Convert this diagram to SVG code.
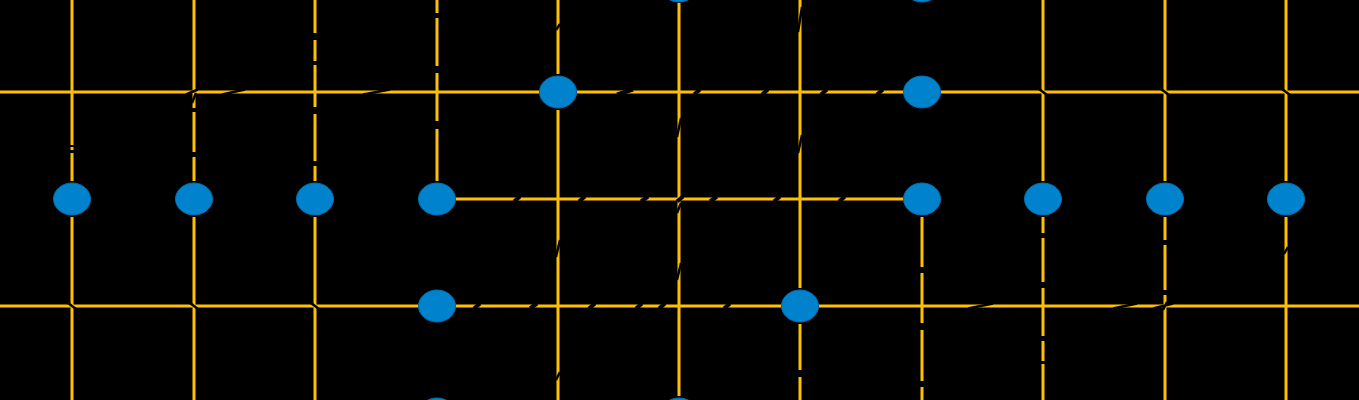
<svg xmlns="http://www.w3.org/2000/svg" width="1359" height="400" viewBox="0 0 1359 400">
<style>
.e{stroke:#FFC000;stroke-width:3;fill:none}
.g{stroke:#000;stroke-width:5;fill:none}
.s{stroke:#000;stroke-width:2.5;fill:none}
.h{stroke:#000;stroke-width:4;fill:none}
.n{fill:#0082CC;stroke:#0070B0;stroke-width:1}
</style>
<rect x="0" y="0" width="1359" height="400" fill="#000"/>
<g id="connectors">
<g id="edges">
<line class="e" x1="72" y1="-20" x2="72" y2="181"/><line class="e" x1="72" y1="217" x2="72" y2="420"/>
<line class="e" x1="194" y1="-20" x2="194" y2="181"/><line class="e" x1="194" y1="217" x2="194" y2="420"/>
<line class="e" x1="315" y1="-20" x2="315" y2="181"/><line class="e" x1="315" y1="217" x2="315" y2="420"/>
<line class="e" x1="437" y1="-20" x2="437" y2="181"/>
<line class="e" x1="558" y1="-20" x2="558" y2="74"/><line class="e" x1="558" y1="110" x2="558" y2="420"/>
<line class="e" x1="679" y1="3" x2="679" y2="396"/>
<line class="e" x1="800" y1="-20" x2="800" y2="288"/><line class="e" x1="800" y1="324" x2="800" y2="420"/>
<line class="e" x1="922" y1="217" x2="922" y2="420"/>
<line class="e" x1="1043" y1="-20" x2="1043" y2="181"/><line class="e" x1="1043" y1="217" x2="1043" y2="420"/>
<line class="e" x1="1165" y1="-20" x2="1165" y2="181"/><line class="e" x1="1165" y1="217" x2="1165" y2="420"/>
<line class="e" x1="1286" y1="-20" x2="1286" y2="181"/><line class="e" x1="1286" y1="217" x2="1286" y2="420"/>
<line class="e" x1="-20" y1="92" x2="539" y2="92"/><line class="e" x1="577" y1="92" x2="903" y2="92"/><line class="e" x1="941" y1="92" x2="1380" y2="92"/>
<line class="e" x1="456" y1="199" x2="903" y2="199"/>
<line class="e" x1="-20" y1="306" x2="418" y2="306"/><line class="e" x1="456" y1="306" x2="781" y2="306"/><line class="e" x1="819" y1="306" x2="1380" y2="306"/>
</g>
<g id="crossings">
<path class="g" d="M72 145V147M72 150V153M194 108V112M194 152V157M315 33V40M315 61V65M315 107V114M315 161V166M437 13V18M437 66V73M437 121V129M922 267V273M922 323V330M922 381V387M1043 233V238M1043 282V288M1043 336V341M1043 361V364M1165 240V245M1165 290V295M800 370V377"/>
<path class="h" d="M617 94.5L633 89.5M694 94.5L700 89.5M762 94.5L768 89.5M821 94.5L827 89.5M877 94.5L883 89.5M514 201.5L520 196.5M579 201.5L585 196.5M641 201.5L648 196.5M677 201.5L683 196.5M710 201.5L717 196.5M774 201.5L780 196.5M839 201.5L845 196.5M474 308.5L480 303.5M530 308.5L537 303.5M589 308.5L595 303.5M636 308.5L642 303.5M659 308.5L665 303.5M724 308.5L730 303.5"/>
<path class="s" d="M560 24L556 30M560 240L556 257M560 372L556 380M681 118L677 137M681 203L677 213M681 263L677 280M802 7L798 32M802 135L798 153M1167 302L1163 310M1288 247L1284 254M196 93L192 103M186 94.5L198 89.5M222 94.5L245 89.5M363 94.5L390 89.5M968 308.5L993 303.5M1113 308.5L1137 303.5M1153 308.5L1173 303.5"/>
<path class="s" d="M68 303L76 309M190 303L198 309M311 303L319 309M1039 89L1047 95M1161 89L1169 95M1282 89L1290 95"/>
</g>
</g>
<g id="nodes">
<ellipse id="n1" class="n" cx="72" cy="199" rx="18.5" ry="16"/>
<ellipse id="n2" class="n" cx="194" cy="199" rx="18.5" ry="16"/>
<ellipse id="n3" class="n" cx="315" cy="199" rx="18.5" ry="16"/>
<ellipse id="n4" class="n" cx="437" cy="199" rx="18.5" ry="16"/>
<ellipse id="n5" class="n" cx="922" cy="199" rx="18.5" ry="16"/>
<ellipse id="n6" class="n" cx="1043" cy="199" rx="18.5" ry="16"/>
<ellipse id="n7" class="n" cx="1165" cy="199" rx="18.5" ry="16"/>
<ellipse id="n8" class="n" cx="1286" cy="199" rx="18.5" ry="16"/>
<ellipse id="n9" class="n" cx="558" cy="92" rx="18.5" ry="16"/>
<ellipse id="n10" class="n" cx="922" cy="92" rx="18.5" ry="16"/>
<ellipse id="n11" class="n" cx="437" cy="306" rx="18.5" ry="16"/>
<ellipse id="n12" class="n" cx="800" cy="306" rx="18.5" ry="16"/>
<ellipse id="n13" class="n" cx="679" cy="-14" rx="18.5" ry="16"/>
<ellipse id="n14" class="n" cx="922" cy="-14" rx="18.5" ry="16"/>
<ellipse id="n15" class="n" cx="437" cy="414" rx="18.5" ry="16"/>
<ellipse id="n16" class="n" cx="679" cy="414" rx="18.5" ry="16"/>
</g>
</svg>
